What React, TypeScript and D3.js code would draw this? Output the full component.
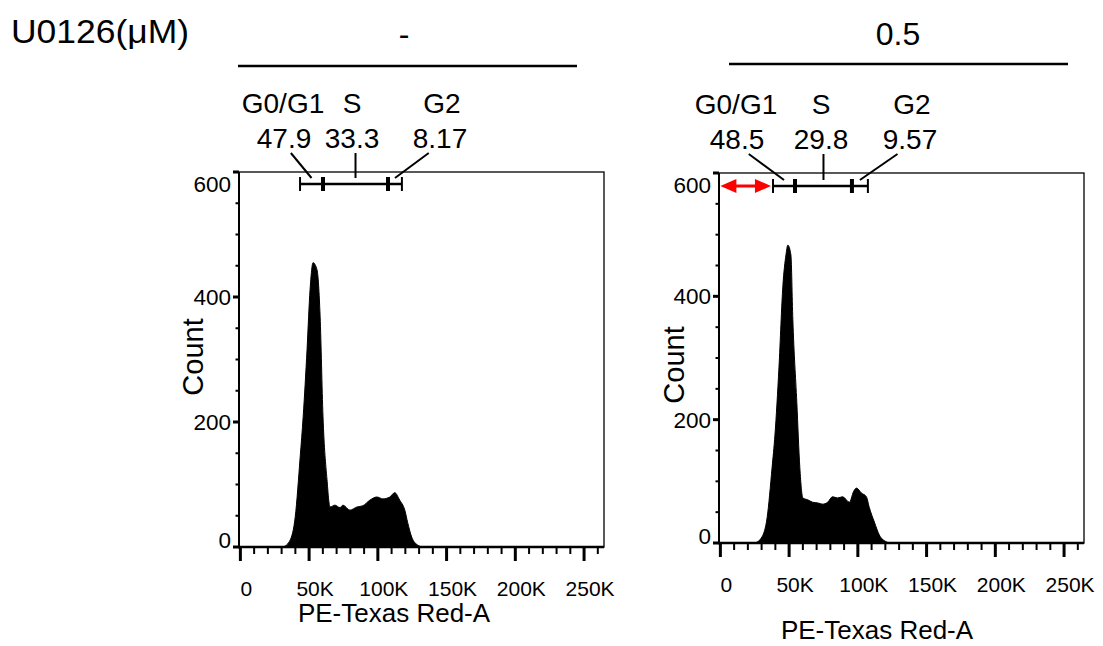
import React from 'react';
import * as d3 from 'd3';

// ---------------- data ----------------
const HEADER_TITLE = 'U0126(μM)';
const DOSE_LABELS = ['-', '0.5'];
const GATE_NAMES = ['G0/G1', 'S', 'G2'];
const PCT_CONTROL = ['47.9', '33.3', '8.17'];
const PCT_U0126 = ['48.5', '29.8', '9.57'];
// gate boundaries in K units: [G0/G1 start, G0/G1|S, S|G2, G2 end]
const GATES_CONTROL = [43.4, 60.1, 107.4, 117.5];
const GATES_U0126 = [38.3, 54.3, 95.7, 107.3];
const ARROW_U0126 = [0, 36.8];
const X_TICKS = [0, 50, 100, 150, 200, 250];
const X_TICK_LABELS = ['0', '50K', '100K', '150K', '200K', '250K'];
const Y_TICKS = [0, 200, 400, 600];
const X_TITLE = 'PE-Texas Red-A';
const Y_TITLE = 'Count';

const HIST_CONTROL_X = [31.2, 36.2, 39.9, 43.5, 45.7, 48.5, 50.7, 52.9, 55.8, 58.0, 60.1, 63.0, 65.2, 68.8, 72.5, 74.6, 79.7, 84.8, 89.1, 94.2, 99.3, 103.6, 108.7, 112.3, 115.9, 119.6, 121.7, 124.6, 129.0, 132.6];
const HIST_CONTROL_Y = [0, 11, 48, 144, 209, 316, 412, 455, 443, 369, 209, 108, 64, 67, 63, 67, 59, 64, 66, 75, 80, 77, 80, 87, 75, 59, 39, 16, 3, 0];

const HIST_U0126_X = [25.3, 30.3, 34.0, 37.6, 39.7, 42.6, 45.5, 47.7, 49.1, 51.3, 52.7, 55.6, 57.8, 60.0, 63.6, 67.2, 70.8, 74.4, 78.0, 81.6, 85.3, 88.9, 93.9, 96.8, 99.0, 102.6, 106.2, 108.4, 112.0, 115.6, 120.7, 122.8];
const HIST_U0126_Y = [0, 10, 41, 122, 175, 284, 418, 467, 483, 467, 363, 228, 122, 73, 70, 66, 65, 63, 66, 75, 73, 75, 66, 83, 89, 81, 75, 57, 34, 13, 2, 0];

// ---------------- layout ----------------
const FONT = '"Liberation Sans", Arial, Helvetica, sans-serif';

const LAYOUT = [
  {
    x0: 239, x1: 604, yTop: 172, yBottom: 547, gateY: 184,
    nameBase: 113, valueBase: 148,
    nameXs: [283, 352, 442], valueXs: [284, 352, 440],
    headerLine: [238, 577], headerLineY: 66, headerX: 404,
    xTitleX: 394, xTitleBase: 622, yTitleX: 203, yTitleY: 357, xTickBase: 596,
  },
  {
    x0: 719, x1: 1084, yTop: 173, yBottom: 543, gateY: 186,
    nameBase: 114, valueBase: 149,
    nameXs: [736, 821, 912], valueXs: [737, 821, 910],
    headerLine: [729, 1068], headerLineY: 64, headerX: 898,
    xTitleX: 877, xTitleBase: 639, yTitleX: 684, yTitleY: 365, xTickBase: 592,
  },
];

type PanelProps = {
  lay: typeof LAYOUT[0];
  hx: number[];
  hy: number[];
  gates: number[];
  pcts: string[];
  dose: string;
  arrow?: number[];
};

function Panel({ lay, hx, hy, gates, pcts, dose, arrow }: PanelProps) {
  const x = d3.scaleLinear().domain([-1, 264.5]).range([lay.x0, lay.x1]);
  const y = d3.scaleLinear().domain([0, 600]).range([lay.yBottom, lay.yTop]);
  const pts: [number, number][] = hx.map((v, i) => [v, hy[i]]);
  const area = d3
    .area<[number, number]>()
    .x((d) => x(d[0]))
    .y0(y(0))
    .y1((d) => y(d[1]))
    .curve(d3.curveMonotoneX);

  const xMinor = d3.range(10, 261, 10).filter((v) => v % 50 !== 0);
  const yMinor = d3.range(50, 600, 50).filter((v) => v % 200 !== 0);
  const gy = lay.gateY;

  return (
    <g fontFamily={FONT} fill="#000">
      {/* header */}
      <text x={lay.headerX} y={45} fontSize={32} textAnchor="middle">{dose}</text>
      <line x1={lay.headerLine[0]} x2={lay.headerLine[1]} y1={lay.headerLineY} y2={lay.headerLineY} stroke="#000" strokeWidth={2.5} />

      {/* histogram */}
      <path d={area(pts) || ''} fill="#000" stroke="#000" strokeWidth={1} />

      {/* box */}
      <rect x={lay.x0} y={lay.yTop} width={lay.x1 - lay.x0} height={lay.yBottom - lay.yTop} fill="none" stroke="#000" strokeWidth={1.3} />
      <line x1={lay.x0} x2={lay.x0} y1={lay.yTop} y2={lay.yBottom} stroke="#000" strokeWidth={2} />
      <line x1={lay.x0 - 1} x2={lay.x1} y1={lay.yBottom} y2={lay.yBottom} stroke="#000" strokeWidth={2.5} />

      {/* y ticks */}
      {Y_TICKS.map((v) => (
        <line key={'ym' + v} x1={lay.x0 - 6} x2={lay.x0} y1={y(v)} y2={y(v)} stroke="#000" strokeWidth={3} />
      ))}
      {yMinor.map((v) => (
        <line key={'yn' + v} x1={lay.x0 - 3.5} x2={lay.x0} y1={y(v)} y2={y(v)} stroke="#000" strokeWidth={2} />
      ))}
      {Y_TICKS.map((v) => (
        <text key={'yl' + v} x={lay.x0 - 8} y={y(v) + (v === 600 ? 20 : v === 0 ? 1 : 8)} fontSize={22.5} textAnchor="end">
          {v}
        </text>
      ))}

      {/* x ticks */}
      {X_TICKS.map((v) => (
        <line key={'xm' + v} x1={x(v)} x2={x(v)} y1={lay.yBottom} y2={lay.yBottom + 14} stroke="#000" strokeWidth={3} />
      ))}
      {xMinor.map((v) => (
        <line key={'xn' + v} x1={x(v)} x2={x(v)} y1={lay.yBottom} y2={lay.yBottom + 7} stroke="#000" strokeWidth={2} />
      ))}
      {X_TICKS.map((v, i) => (
        <text key={'xl' + v} x={x(v) + 6} y={lay.xTickBase} fontSize={21} textAnchor="middle">
          {X_TICK_LABELS[i]}
        </text>
      ))}

      {/* axis titles */}
      <text x={lay.xTitleX} y={lay.xTitleBase} fontSize={26} textAnchor="middle">{X_TITLE}</text>
      <text transform={`translate(${lay.yTitleX},${lay.yTitleY}) rotate(-90)`} fontSize={29} textAnchor="middle">
        {Y_TITLE}
      </text>

      {/* gates */}
      {GATE_NAMES.map((n, i) => (
        <line key={'g' + i} x1={x(gates[i])} x2={x(gates[i + 1])} y1={gy} y2={gy} stroke="#000" strokeWidth={2.5} />
      ))}
      {gates.map((b, i) => (
        <line key={'gt' + i} x1={x(b)} x2={x(b)} y1={gy - 7} y2={gy + 7} stroke="#000" strokeWidth={i === 0 || i === gates.length - 1 ? 2 : 4} />
      ))}
      {GATE_NAMES.map((n, i) => {
        const mid = (x(gates[i]) + x(gates[i + 1])) / 2;
        const vx = lay.valueXs[i];
        const k = i === 1 ? 1 : 0.25;
        const sx = vx + (mid - vx) * k;
        return (
          <line key={'ld' + i} x1={sx} y1={lay.valueBase + 5} x2={mid} y2={gy - 6} stroke="#000" strokeWidth={2} />
        );
      })}
      {GATE_NAMES.map((n, i) => (
        <text key={'gn' + i} x={lay.nameXs[i]} y={lay.nameBase} fontSize={28} textAnchor="middle">{n}</text>
      ))}
      {pcts.map((p, i) => (
        <text key={'gp' + i} x={lay.valueXs[i]} y={lay.valueBase} fontSize={28} textAnchor="middle">{p}</text>
      ))}

      {/* red double arrow */}
      {arrow && (
        <g fill="#ff0000" stroke="none">
          <line x1={x(arrow[0]) + 10} x2={x(arrow[1]) - 10} y1={gy} y2={gy} stroke="#ff0000" strokeWidth={3} />
          <polygon points={`${x(arrow[0])},${gy} ${x(arrow[0]) + 16},${gy - 7} ${x(arrow[0]) + 16},${gy + 7}`} />
          <polygon points={`${x(arrow[1])},${gy} ${x(arrow[1]) - 16},${gy - 7} ${x(arrow[1]) - 16},${gy + 7}`} />
        </g>
      )}
    </g>
  );
}

export default function App() {
  return (
    <svg
      width={1103}
      height={646}
      viewBox="0 0 1103 646"
      style={{ position: 'absolute', left: 0, top: 0, background: '#fff' }}
    >
      <rect width={1103} height={646} fill="#fff" />
      <text x={11} y={43} fontSize={33} fontFamily={FONT} fill="#000" textLength={178} lengthAdjust="spacingAndGlyphs">
        {HEADER_TITLE}
      </text>
      <Panel lay={LAYOUT[0]} hx={HIST_CONTROL_X} hy={HIST_CONTROL_Y} gates={GATES_CONTROL} pcts={PCT_CONTROL} dose={DOSE_LABELS[0]} />
      <Panel lay={LAYOUT[1]} hx={HIST_U0126_X} hy={HIST_U0126_Y} gates={GATES_U0126} pcts={PCT_U0126} dose={DOSE_LABELS[1]} arrow={ARROW_U0126} />
    </svg>
  );
}
